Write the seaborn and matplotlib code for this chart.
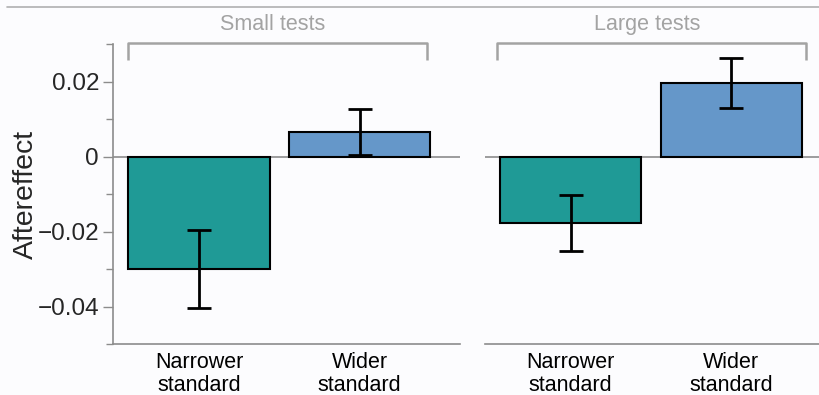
import numpy as np
import pandas as pd
import matplotlib
matplotlib.use("Agg")
import matplotlib.pyplot as plt
import seaborn as sns

# values
conditions = ["Narrower\nstandard", "Wider\nstandard"]
small_mean = [-0.0300, 0.0065]
small_err = [0.0105, 0.0061]
large_mean = [-0.0178, 0.0196]
large_err = [0.0075, 0.0067]
group_names = ["Small tests", "Large tests"]

bar_colors = ["#1f9a96", "#6597c9"]
grey = "#8c8c8c"
bracket_grey = "#a3a3a3"

sns.set_style("white")
plt.rcParams["font.family"] = ["Liberation Sans", "DejaVu Sans"]

fig = plt.figure(figsize=(8.2, 3.95), dpi=100)
fig.patch.set_facecolor("#fcfcfe")
ax1 = fig.add_axes([0.1378, 0.1291, 0.4232, 0.7595])
ax2 = fig.add_axes([0.5915, 0.1291, 0.4085, 0.7595])

panels = [(ax1, small_mean, small_err, group_names[0], (-0.536, 1.626), (-0.442, 1.42)),
          (ax2, large_mean, large_err, group_names[1], (-0.533, 1.553), (-0.458, 1.467))]

for ax, means, errs, name, xl, br in panels:
    df = pd.DataFrame({"cond": conditions, "val": means})
    sns.barplot(data=df, x="cond", y="val", hue="cond", palette=bar_colors,
                saturation=1, width=0.88, edgecolor="black", linewidth=1.5,
                legend=False, errorbar=None, ax=ax, zorder=3)
    ax.errorbar(np.arange(len(means)), means, yerr=errs, fmt="none",
                ecolor="black", elinewidth=2, capsize=8.5, capthick=2, zorder=4)
    ax.axhline(0, color=grey, lw=1.2, zorder=2)
    ax.set_xlim(*xl)
    ax.set_ylim(-0.05, 0.03)
    ax.set_facecolor("#fcfcfe")
    ax.set_xlabel("")
    ax.set_ylabel("")
    ax.tick_params(axis="x", length=0, labelsize=15.5, pad=6, colors="black")
    for lab in ax.get_xticklabels():
        lab.set_linespacing(1.1)
    for s in ["top", "right"]:
        ax.spines[s].set_visible(False)
    ax.spines["bottom"].set_color(grey)
    ax.spines["bottom"].set_linewidth(1.2)
    ax.spines["left"].set_color(grey)
    ax.spines["left"].set_linewidth(1.2)

    # bracket with group name
    x0, x1 = br
    ax.plot([x0, x0, x1, x1], [0.0257, 0.0302, 0.0302, 0.0257],
            color=bracket_grey, lw=1.8, clip_on=False, solid_capstyle="butt")
    ax.text((x0 + x1) / 2 - 0.03, 0.0323, name, ha="center", va="bottom",
            fontsize=15.5, color=bracket_grey)

ax1.set_yticks([-0.04, -0.02, 0, 0.02])
ax1.set_yticklabels(["\u22120.04", "\u22120.02", "0", "0.02"])
ax1.set_yticks([-0.05, -0.03, -0.01, 0.01, 0.03], minor=True)
ax1.tick_params(axis="y", which="major", length=7, width=1, color=grey,
                labelsize=17.5, pad=3, left=True)
ax1.tick_params(axis="y", which="minor", length=5, width=1, color=grey,
                left=True)
ax1.set_ylabel("Aftereffect", fontsize=20.5, labelpad=-1)

ax2.spines["left"].set_visible(False)
ax2.set_yticks([])

# rule under the cut-off panel title
fig.add_artist(plt.Line2D([0.009, 1.0], [0.982, 0.982], color="#b0b0b0", lw=1.2))

fig.savefig("out.png", dpi=100, facecolor=fig.get_facecolor())
